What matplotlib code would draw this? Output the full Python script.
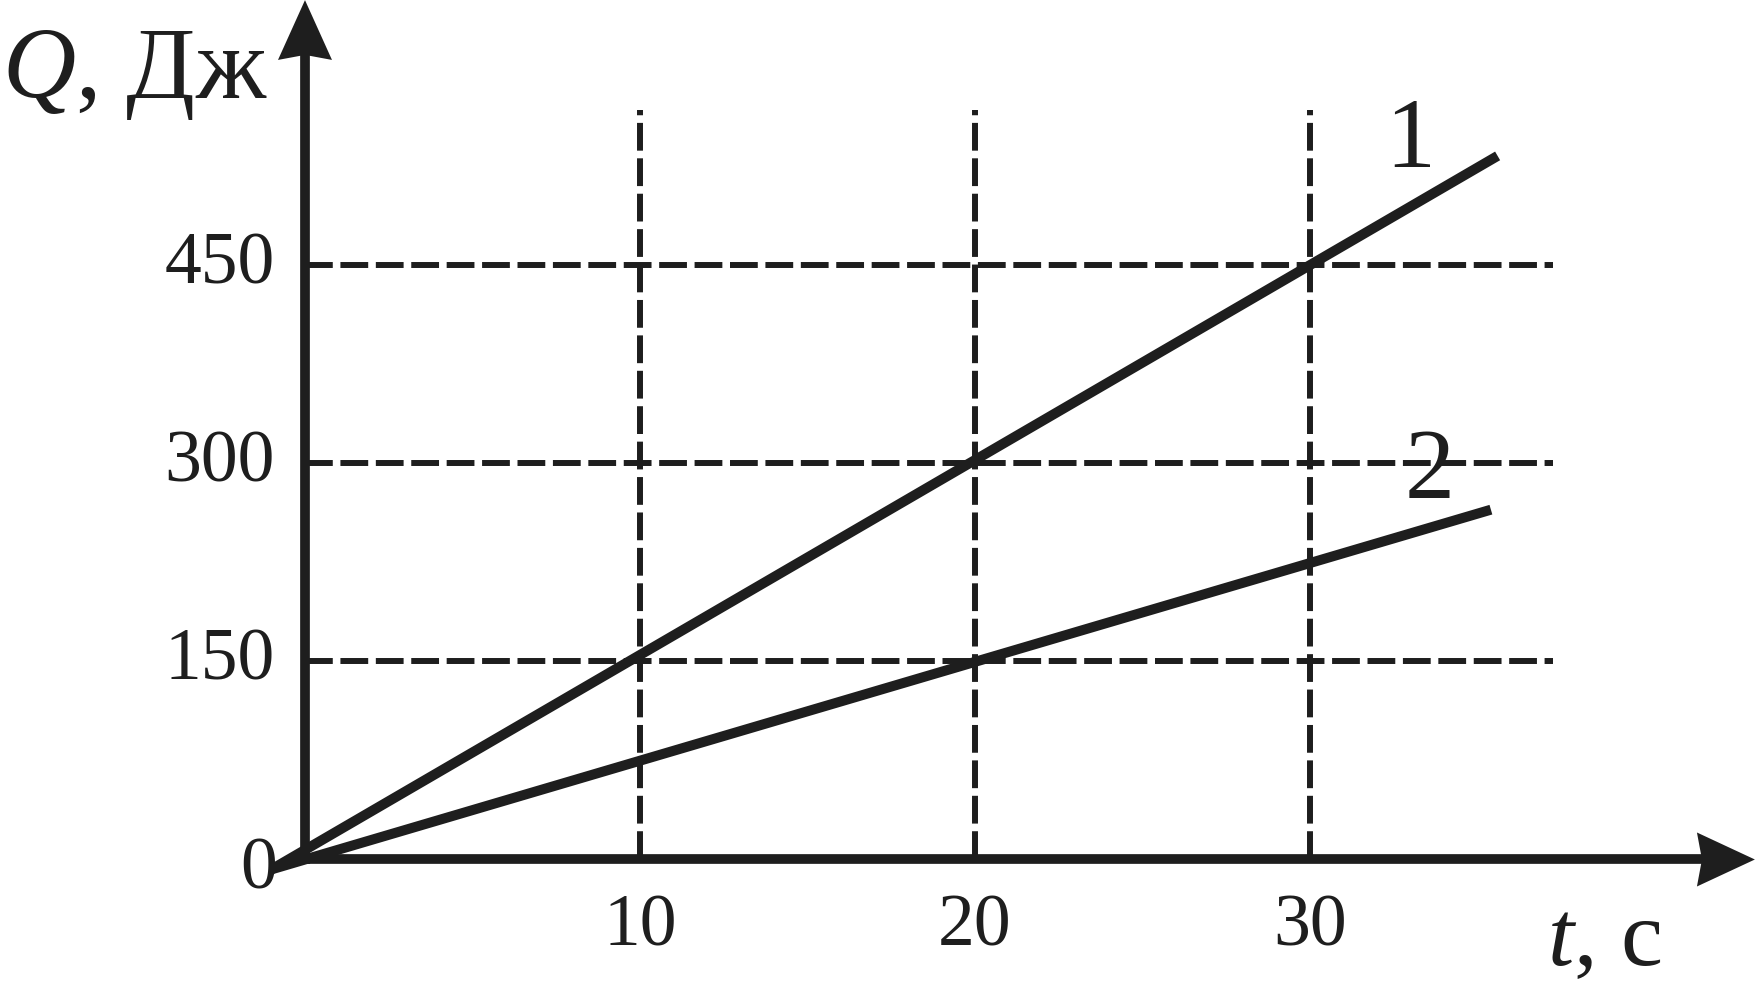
import matplotlib
matplotlib.use('Agg')
import matplotlib.pyplot as plt
from matplotlib.patches import Polygon

plt.rcParams['font.family'] = ['Liberation Serif', 'DejaVu Serif']
plt.rcParams['mathtext.fontset'] = 'custom'
plt.rcParams['mathtext.it'] = 'Liberation Serif:italic'
plt.rcParams['mathtext.rm'] = 'Liberation Serif'
plt.rcParams['lines.scale_dashes'] = False

# данные
t_ticks = [10, 20, 30]
q_ticks = [150, 300, 450]
t_labels = ['10', '20', '30']
q_labels = ['150', '300', '450']

line1_t = [-1.0, 35.6]
line1_q = [-7.5, 533]
line2_t = [-1.0, 35.4]
line2_q = [-7.5, 265]

col = '#1e1e1e'

fig = plt.figure(figsize=(17.56, 9.83), dpi=100)
ax = fig.add_axes([0, 0, 1, 1])
ax.set_xlim(-9.104, 43.313)
ax.set_ylim(-93.56, 651.1)
ax.axis('off')

px_t = 33.5   # пикселей на 1 с
px_q = 1.32   # пикселей на 1 Дж

# сетка
for t in t_ticks:
    ax.plot([t, t], [0, 568], color=col, lw=4.3, dashes=(20, 5.5),
            solid_capstyle='butt', dash_capstyle='butt', zorder=1)
for q in q_ticks:
    ax.plot([0, 37.25], [q, q], color=col, lw=4.3, dashes=(20, 5.5),
            dash_capstyle='butt', zorder=1)

# оси
ax.plot([0, 0], [0, 609], color=col, lw=7, solid_capstyle='projecting', zorder=3)
ax.plot([0, 41.7], [0, 0], color=col, lw=7, solid_capstyle='projecting', zorder=3)

# стрелки
hw_t = 27 / px_t
hw_q = 27 / px_q
ax.add_patch(Polygon([(0, 651), (hw_t, 605.7), (0, 609.5), (-hw_t, 605.7)],
                     closed=True, color=col, lw=0, zorder=4))
ax.add_patch(Polygon([(43.28, 0), (41.55, hw_q), (41.7, 0), (41.55, -hw_q)],
                     closed=True, color=col, lw=0, zorder=4))

# графики
ax.plot(line1_t, line1_q, color=col, lw=7.2, solid_capstyle='butt', zorder=5)
ax.plot(line2_t, line2_q, color=col, lw=7.2, solid_capstyle='butt', zorder=5)

# подписи делений
fs = 53
for q, lab in zip(q_ticks, q_labels):
    ax.text(-0.9, q - 13.6, lab, ha='right', va='baseline', fontsize=fs, color=col)
for t, lab in zip(t_ticks, t_labels):
    ax.text(t, -64.8, lab, ha='center', va='baseline', fontsize=fs, color=col)
ax.text(-1.37, -21.6, '0', ha='center', va='baseline', fontsize=fs, color=col)

# номера графиков
ax.text(32.99, 524.6, '1', ha='center', va='baseline', fontsize=72, color=col)
ax.text(33.58, 274.6, '2', ha='center', va='baseline', fontsize=72, color=col)

# названия осей
ax.text(-9.04, 577, r'$Q$, Дж', ha='left', va='baseline', fontsize=73, color=col)
ax.text(37.07, -80, r'$t$, с', ha='left', va='baseline', fontsize=68, color=col)

fig.savefig('out.png', dpi=100)
